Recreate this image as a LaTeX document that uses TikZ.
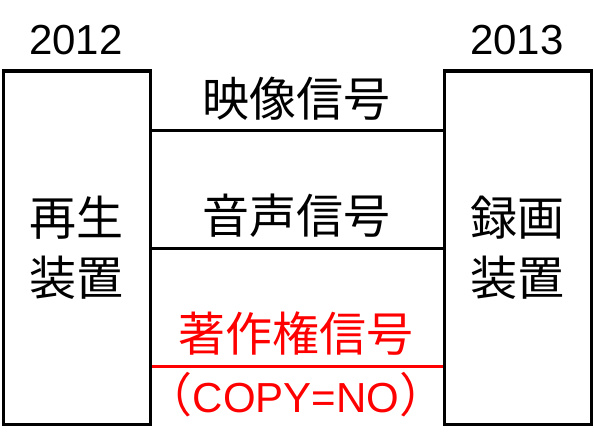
\documentclass[tikz,border=0pt]{standalone}
\usepackage{fontspec}
\setmainfont{Liberation Sans}
\newfontfamily\cjk{Noto Sans CJK JP}
\begin{document}
\begin{tikzpicture}[x=1pt,y=-1pt,
  devbox/.style={draw=black,line width=3pt,minimum width=147pt,minimum height=353pt,inner sep=0pt,
    align=center,font=\cjk\fontsize{47}{60}\selectfont},
  yeartext/.style={inner sep=0pt,font=\fontsize{42}{50}\selectfont},
  sigtext/.style={inner sep=0pt,font=\cjk\fontsize{47}{56}\selectfont},
  sigline/.style={line width=3pt},
  redtext/.style={text=red}]
\useasboundingbox (0,0) rectangle (594,444);
\node[devbox] (play) at (76.5,247.5) {再生\\装置};
\node[devbox] (rec) at (517.5,247.5) {録画\\装置};
\node[yeartext] (y1) at (76,40) {2012};
\node[yeartext] (y2) at (517,40) {2013};
\coordinate (a1) at (play.east |- 0,130);
\coordinate (a2) at (rec.west |- 0,130);
\coordinate (b1) at (play.east |- 0,248);
\coordinate (b2) at (rec.west |- 0,248);
\coordinate (c1) at (play.east |- 0,366);
\coordinate (c2) at (rec.west |- 0,366);
\draw[sigline] (a1) -- (a2);
\draw[sigline] (b1) -- (b2);
\draw[sigline,red] (c1) -- (c2);
\node[sigtext] (s1) at (296,99) {映像信号};
\node[sigtext] (s2) at (296,216) {音声信号};
\node[sigtext,redtext] (s3) at (296,334) {著作権信号};
\node[yeartext,redtext] (s4) at (296,395) {{\cjk\fontsize{47}{56}\selectfont （}COPY=NO{\cjk\fontsize{47}{56}\selectfont ）}};
\end{tikzpicture}
\end{document}
